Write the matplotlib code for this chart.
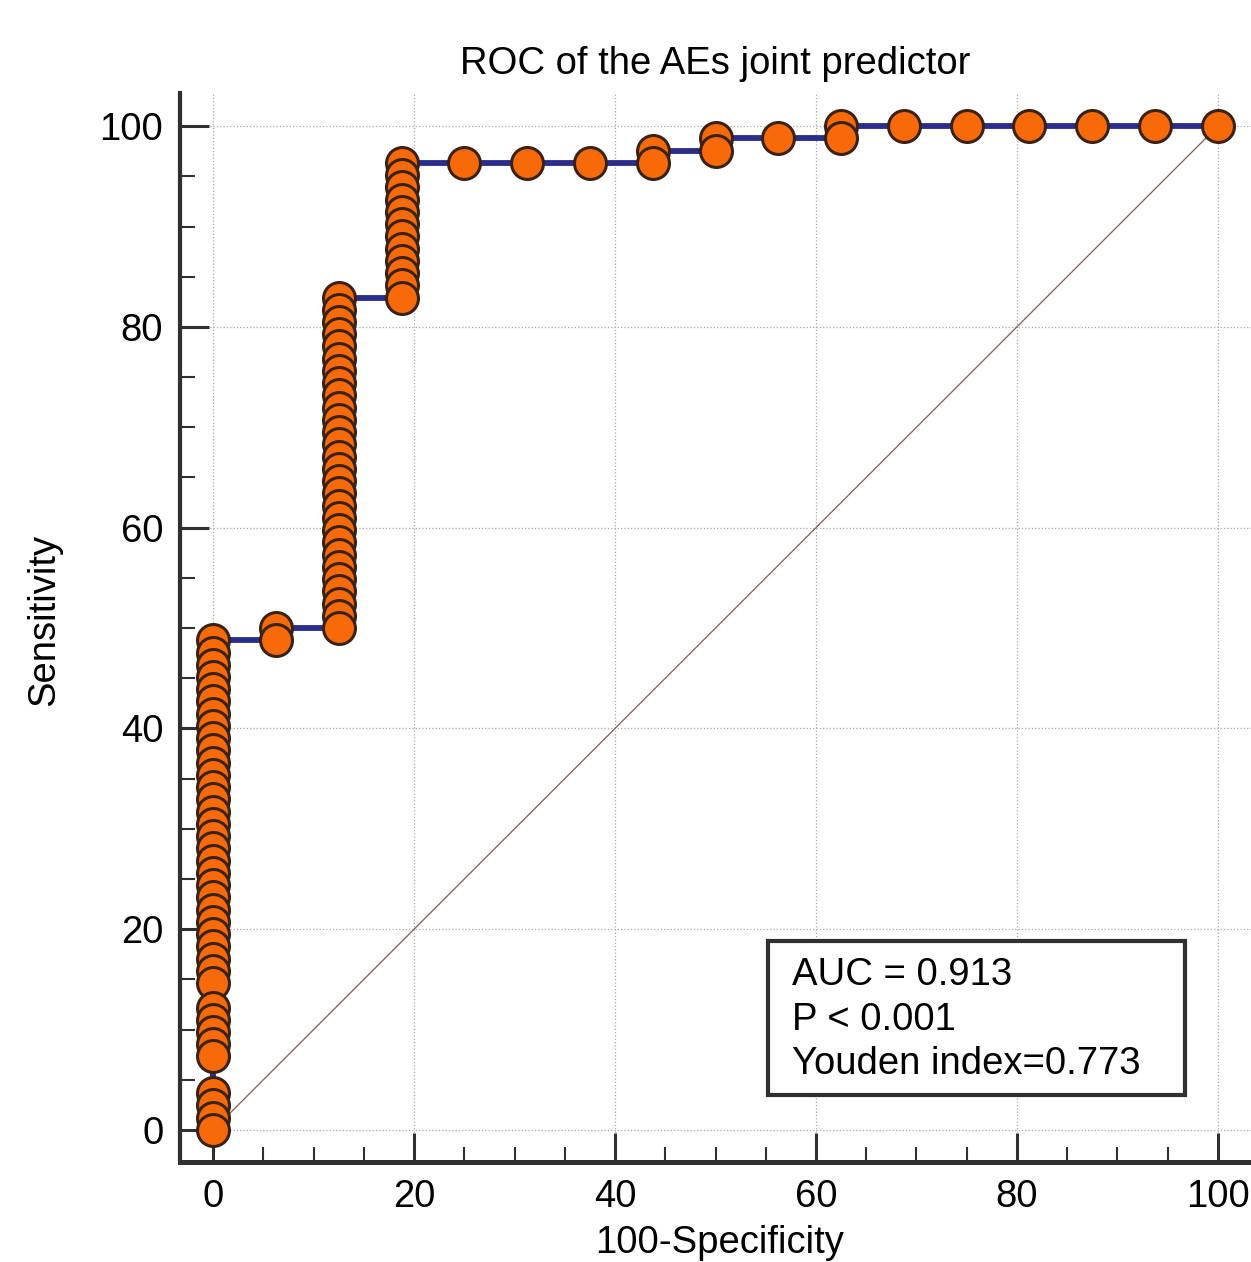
import matplotlib
matplotlib.use("Agg")
import matplotlib.pyplot as plt
from matplotlib.patches import Rectangle
from matplotlib.ticker import MultipleLocator

plt.rcParams['font.family'] = ['Liberation Sans', 'DejaVu Sans']

# data: ROC points as counts (16 negatives, 82 positives)
n_neg = 16
n_pos = 82
fp_counts = ([0] * 38 + [1, 1] + [2] * 28 + [3] * 12 +
             [4, 5, 6, 7, 7, 8, 8, 9, 10, 10, 11, 12, 13, 14, 15, 16])
tp_counts = ([0, 1, 2, 3, 6, 7, 8, 9, 10,
              12, 13, 14, 15, 16, 17, 18, 19, 20, 21, 22, 23, 24, 25, 26,
              27, 28, 29, 30, 31, 32, 33, 34, 35, 36, 37, 38, 39, 40]
             + [40, 41]
             + [41, 42, 43, 44, 45, 46, 47, 48, 49, 50, 51, 52, 53, 54,
                55, 56, 57, 58, 59, 60, 61, 62, 63, 64, 65, 66, 67, 68]
             + [68, 69, 70, 71, 72, 73, 74, 75, 76, 77, 78, 79]
             + [79, 79, 79, 79, 80, 80, 81, 81, 81, 82, 82, 82, 82, 82, 82, 82])

x_ticks = [0, 20, 40, 60, 80, 100]
y_ticks = [0, 20, 40, 60, 80, 100]
title = "ROC of the AEs joint predictor"
stats_text = "AUC = 0.913\nP < 0.001\nYouden index=0.773"

# convert: counts to percentages
fpr = [100.0 * f / n_neg for f in fp_counts]
tpr = [100.0 * t / n_pos for t in tp_counts]

fig = plt.figure(figsize=(12.51, 12.62), dpi=100)
ax = fig.add_axes([0.1439, 0.0792, 0.8561, 0.8471])

spine_col = '#303030'
fs = 27.5

# diagonal reference
ax.plot([0, 100], [0, 100], color='#8a5656', lw=0.9, zorder=2)
# roc curve
ax.plot(fpr, tpr, color='#2b2d8c', lw=4.2, zorder=3, solid_capstyle='butt')
# markers drawn from the top end down, so lower circles sit in front
ax.plot(fpr[::-1], tpr[::-1], ls='none', marker='o', ms=23, mfc='#f86a08',
        mec='#3a2210', mew=2.2, zorder=4)

ax.set_xlim(-3.3, 103.3)
ax.set_ylim(-3.2, 103.3)

ax.set_xticks(x_ticks)
ax.set_yticks(y_ticks)
ax.xaxis.set_minor_locator(MultipleLocator(5))
ax.yaxis.set_minor_locator(MultipleLocator(5))
ax.tick_params(which='major', direction='in', length=21, width=2.2,
               color=spine_col, labelsize=fs, pad=12)
ax.tick_params(which='minor', direction='in', length=10.5, width=1.5,
               color=spine_col)
ax.tick_params(axis='y', which='major', pad=12)

ax.grid(True, which='major', ls=':', color='#a8a8a8', lw=0.9)
ax.set_axisbelow(True)

for s in ['top', 'right']:
    ax.spines[s].set_visible(False)
ax.spines['left'].set_linewidth(3.0)
ax.spines['bottom'].set_linewidth(3.6)
ax.spines['left'].set_color(spine_col)
ax.spines['bottom'].set_color(spine_col)

ax.set_title(title, fontsize=fs, pad=14)
ax.set_xlabel("100-Specificity", fontsize=fs, va='bottom')
ax.set_ylabel("Sensitivity", fontsize=fs)
ax.xaxis.set_label_coords(0.504, -0.0925)
ax.yaxis.set_label_coords(-0.110, 0.507)

# stats box
ax.add_patch(Rectangle((55.2, 3.5), 41.5, 15.3, fill=True, fc='white',
                       ec=spine_col, lw=3.0, zorder=5))
ax.text(57.6, 17.2, stats_text, fontsize=fs, ha='left', va='top',
        linespacing=1.3, zorder=6)

fig.savefig("out.png", dpi=100)
